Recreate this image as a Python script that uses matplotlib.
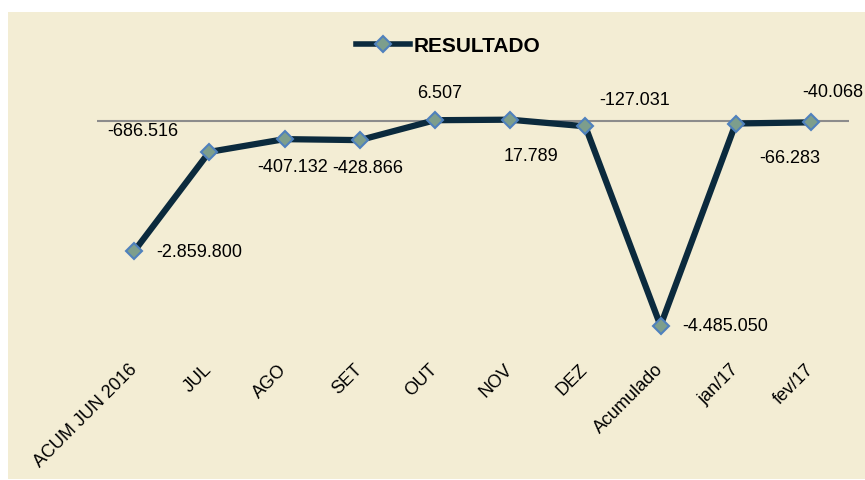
import matplotlib.pyplot as plt
from matplotlib.patches import Rectangle
from matplotlib.lines import Line2D

plt.rcParams['font.family'] = ['Liberation Sans', 'DejaVu Sans']

# dados do grafico
categorias = ['ACUM JUN 2016', 'JUL', 'AGO', 'SET', 'OUT', 'NOV', 'DEZ',
              'Acumulado', 'jan/17', 'fev/17']
resultado = [-2859800, -686516, -407132, -428866, 6507, 17789, -127031,
             -4485050, -66283, -40068]
rotulos = ['-2.859.800', '-686.516', '-407.132', '-428.866', '6.507', '17.789',
           '-127.031', '-4.485.050', '-66.283', '-40.068']
# deslocamento dos rotulos (pixels) e alinhamento
desloc = [(22, 0, 'left'), (-66, 21, 'center'), (8, -27, 'center'), (8, -27, 'center'),
          (5, 28, 'center'), (21, -36, 'center'), (49, 27, 'center'),
          (22, 0, 'left'), (54, -34, 'center'), (-9, 31, 'left')]

W, H = 865, 481
fig = plt.figure(figsize=(W / 100, H / 100), dpi=100)
fig.patch.set_facecolor('white')
fig.patches.append(Rectangle((8 / W, 1 - 480 / H), 1, (480 - 13) / H,
                             transform=fig.transFigure, facecolor='#F3EDD4',
                             edgecolor='none', zorder=-5))

# area do grafico em pixels
esq, dir_, topo, base = 96.5, 848.5, 60, 345
zero = 121.5
ax = fig.add_axes([esq / W, 1 - base / H, (dir_ - esq) / W, (base - topo) / H])
ax.patch.set_alpha(0)
escala = 4.575e-5  # px por unidade
ax.set_ylim(-(base - zero) / escala, (zero - topo) / escala)
ax.set_xlim(-0.5, len(categorias) - 0.5)

x = list(range(len(categorias)))
ax.axhline(0, color='#8C8C8C', lw=1.5, zorder=1)
ax.plot(x, resultado, color='#0B2A3D', lw=4.5, marker='D', markersize=8.5,
        markerfacecolor='#7D9E8C', markeredgecolor='#4F81BD', markeredgewidth=1.5,
        zorder=3, solid_joinstyle='miter')

for i in range(len(x)):
    dx, dy, ha = desloc[i]
    ax.annotate(rotulos[i], (x[i], resultado[i]), xytext=(dx, dy),
                textcoords='offset pixels', ha=ha, va='center', fontsize=13,
                annotation_clip=False)

for s in ax.spines.values():
    s.set_visible(False)
ax.set_yticks([])
ax.set_xticks(x)
ax.set_xticklabels(categorias, rotation=45, ha='right', va='center',
                   rotation_mode='anchor', fontsize=13)
ax.tick_params(axis='x', length=0, pad=16)

handle = Line2D([], [], color='#0B2A3D', lw=4, marker='D', markersize=8.5,
                markerfacecolor='#7D9E8C', markeredgecolor='#4F81BD',
                markeredgewidth=1.5)
fig.legend([handle], ['RESULTADO'], loc='center', bbox_to_anchor=(448 / W, 1 - 47 / H),
           frameon=False, prop={'weight': 'bold', 'size': 15}, handlelength=2.6,
           handletextpad=0.15)

fig.savefig('out.png', dpi=100)
